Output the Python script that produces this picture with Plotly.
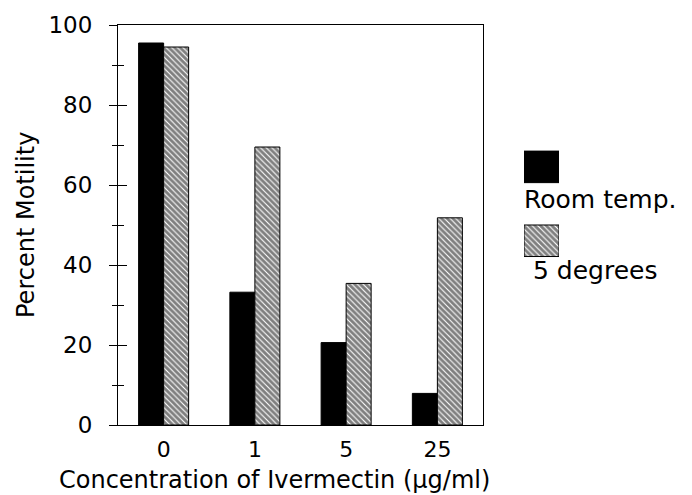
import plotly.graph_objects as go

categories = ["0", "1", "5", "25"]
room_temp = [95.5, 33.2, 20.6, 7.9]
five_degrees = [94.5, 69.5, 35.4, 51.8]
legend_labels = ["Room temp.", "5 degrees"]
y_ticks = [0, 20, 40, 60, 80, 100]

FONT = "DejaVu Sans"
W, H = 692, 495
L, R, T, B = 118, 12, 19, 70
PW, PH = W - L - R, H - T - B


def px_x(px):
    return (px - L) / PW


def px_y(py):
    return (H - B - py) / PH


hatch = dict(shape="\\", fgcolor="black", bgcolor="white", size=4, solidity=0.72)

fig = go.Figure()
fig.add_trace(go.Bar(x=categories, y=room_temp, name=legend_labels[0],
                     marker=dict(color="black", line=dict(color="black", width=1)),
                     showlegend=False))
fig.add_trace(go.Bar(x=categories, y=five_degrees, name=legend_labels[1],
                     marker=dict(color="white", pattern=hatch, line=dict(color="black", width=1)),
                     showlegend=False))
# invisible trace to host the inside-tick overlay axis
fig.add_trace(go.Scatter(x=categories, y=room_temp, yaxis="y2", mode="markers",
                         marker=dict(opacity=0), hoverinfo="skip", showlegend=False))

# custom legend swatches
fig.add_trace(go.Bar(y=[legend_labels[0]], x=[1], orientation="h", xaxis="x3", yaxis="y3",
                     width=[0.4267], offsetgroup="leg",
                     marker=dict(color="black", line=dict(color="black", width=1)),
                     showlegend=False, hoverinfo="skip"))
fig.add_trace(go.Bar(y=[legend_labels[1]], x=[1], orientation="h", xaxis="x3", yaxis="y3",
                     width=[0.4267], offsetgroup="leg",
                     marker=dict(color="white", pattern=hatch, line=dict(color="black", width=1)),
                     showlegend=False, hoverinfo="skip"))

fig.update_layout(
    width=W, height=H,
    margin=dict(l=L, r=R, t=T, b=B, pad=0),
    paper_bgcolor="white", plot_bgcolor="white",
    font=dict(family=FONT, size=23, color="black"),
    barmode="group", bargap=0.452, bargroupgap=0,
    xaxis=dict(domain=[0, px_x(483)], type="category", range=[-0.5, 3.5],
               showline=True, linecolor="black", linewidth=1, mirror=True,
               ticks="", showgrid=False, ticklabelstandoff=5,
               tickfont=dict(family=FONT, size=22)),
    yaxis=dict(range=[0, 100], tickvals=y_ticks, showline=True, linecolor="black",
               linewidth=1, mirror=True, ticks="outside", ticklen=8, tickcolor="black",
               minor=dict(dtick=10, tick0=0, ticks="outside", ticklen=5, tickcolor="black"),
               showgrid=False, zeroline=False, ticklabelstandoff=12,
               tickfont=dict(family=FONT, size=23)),
    yaxis2=dict(range=[0, 100], overlaying="y", anchor="x", side="left",
                tickvals=y_ticks, ticks="inside", ticklen=9, tickcolor="black",
                minor=dict(dtick=10, tick0=0, ticks="inside", ticklen=6, tickcolor="black"),
                showticklabels=False, showgrid=False, zeroline=False, showline=False),
    xaxis3=dict(domain=[px_x(524), px_x(559)], range=[0, 1], anchor="y3",
                visible=False, fixedrange=True),
    yaxis3=dict(domain=[px_y(275.5), px_y(125.5)], type="category",
                categoryorder="array", categoryarray=legend_labels,
                range=[1.5, -0.5], anchor="x3", visible=False, fixedrange=True),
    annotations=[
        dict(text="Percent Motility", x=px_x(26), y=0.5, xref="paper", yref="paper",
             textangle=-90, showarrow=False, xanchor="center", yanchor="middle",
             font=dict(family=FONT, size=24)),
        dict(text="Concentration of Ivermectin (µg/ml)", x=px_x(274), y=px_y(481),
             xref="paper", yref="paper", showarrow=False, xanchor="center",
             yanchor="middle", font=dict(family=FONT, size=24)),
        dict(text=legend_labels[0], x=px_x(522), y=px_y(196), xref="paper", yref="paper",
             showarrow=False, xanchor="left", yanchor="middle",
             font=dict(family=FONT, size=25)),
        dict(text=legend_labels[1], x=px_x(531), y=px_y(268), xref="paper", yref="paper",
             showarrow=False, xanchor="left", yanchor="middle",
             font=dict(family=FONT, size=25)),
    ],
)

fig.write_html("out.html")
